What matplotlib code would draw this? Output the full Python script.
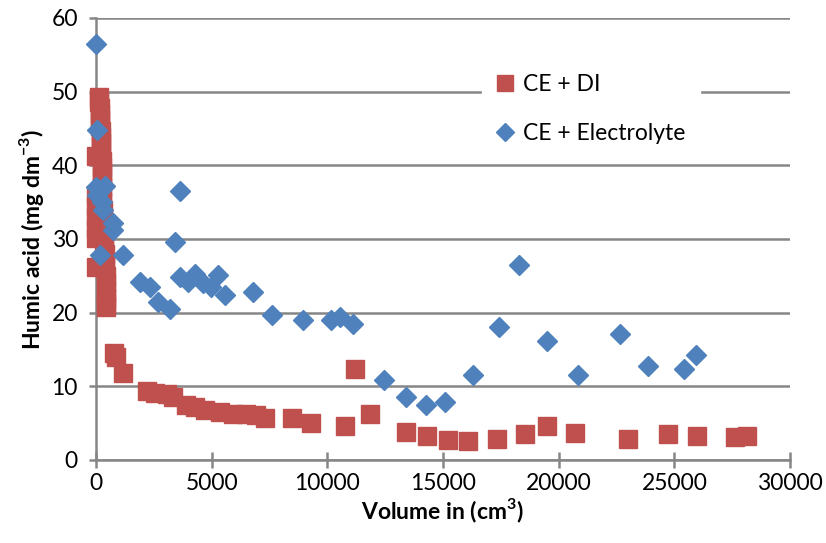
import matplotlib
matplotlib.use("Agg")
import matplotlib.pyplot as plt

# CE + DI (red squares)
di_volume = [0, 0, 0, 0, 0, 0, 0,
             140, 150, 160, 170, 180, 190, 200, 205, 215, 225, 235, 240, 250, 255,
             260, 265, 270, 275, 285, 295, 305, 320, 340, 360, 380, 395, 410, 420, 430,
             780, 860, 1180, 2190, 2550, 3080, 3340, 3910, 4270, 4700, 5350, 5930,
             6500, 6900, 7290, 8490, 9310, 10780, 11210, 11860, 13380, 14300, 15220,
             16100, 17350, 18560, 19480, 20700, 23000, 24740, 26000, 27620, 28150]
di_humic = [41.3, 36.0, 34.5, 33.0, 31.5, 30.2, 26.2,
            49.3, 48.6, 47.8, 47.0, 46.2, 45.4, 44.6, 43.8, 43.0, 42.2, 41.4, 40.6, 39.8, 39.0,
            38.0, 37.0, 36.0, 35.0, 34.0, 33.0, 32.0, 31.0, 30.0, 29.0, 28.0, 27.0, 26.0, 25.0, 24.0,
            14.5, 14.0, 11.8, 9.3, 9.1, 8.9, 8.6, 7.5, 7.2, 6.8, 6.45, 6.3,
            6.2, 6.1, 5.65, 5.65, 5.0, 4.66, 12.4, 6.2, 3.85, 3.2, 2.75,
            2.55, 2.8, 3.5, 4.65, 3.6, 2.85, 3.5, 3.25, 3.1, 3.25]
# bottom of the early column
di_volume += [430, 435, 440, 430]
di_humic += [23.0, 22.0, 21.2, 20.8]

# CE + Electrolyte (blue diamonds)
el_volume = [0, 50, 0, 390, 60, 250, 300, 740, 720, 170, 1180, 1900, 2330, 2690,
             3190, 3410, 3625, 3625, 3985, 4270, 4630, 4990, 5280, 5570, 6790, 7600,
             8950, 10170, 10530, 11100, 12470, 13380, 14270, 15100, 16290, 17440,
             18300, 19480, 20820, 22640, 23870, 25420, 25930]
el_humic = [56.5, 44.8, 37.1, 37.2, 36.0, 35.0, 34.0, 32.2, 31.2, 27.8, 27.8, 24.2, 23.5, 21.5,
            20.5, 29.6, 36.5, 24.9, 24.2, 25.3, 24.0, 23.5, 25.1, 22.4, 22.8, 19.7,
            19.0, 19.0, 19.4, 18.5, 10.9, 8.5, 7.5, 7.9, 11.6, 18.1,
            26.5, 16.2, 11.6, 17.1, 12.7, 12.4, 14.2]

x_ticks = [0, 5000, 10000, 15000, 20000, 25000, 30000]
y_ticks = [0, 10, 20, 30, 40, 50, 60]

red = "#C0504D"
blue = "#4F81BD"
grey = "#868686"

plt.rcParams['font.family'] = ['Lato', 'DejaVu Sans']
plt.rcParams['mathtext.fontset'] = 'custom'
plt.rcParams['mathtext.rm'] = 'Lato'
plt.rcParams['mathtext.bf'] = 'Lato:bold'

fig = plt.figure(figsize=(8.26, 5.43), dpi=100)
ax = fig.add_axes([0.1162, 0.1529, 0.8402, 0.814])

ax.plot(di_volume, di_humic, linestyle='none', marker='s', ms=13.5,
        color=red, mec=red, label='CE + DI', clip_on=False, zorder=3)
ax.plot(el_volume, el_humic, linestyle='none', marker='D', ms=9.8,
        color=blue, mec=blue, label='CE + Electrolyte', clip_on=False, zorder=4)

ax.set_xlim(0, 30000)
ax.set_ylim(0, 60)
ax.set_xticks(x_ticks)
ax.set_yticks(y_ticks)
ax.tick_params(axis='both', labelsize=16.5, colors=grey, labelcolor='black', width=1.8)
ax.tick_params(axis='x', direction='inout', length=11, pad=4)
ax.tick_params(axis='y', direction='out', length=5, pad=8)

ax.grid(axis='y', color=grey, linewidth=1.8)
ax.set_axisbelow(True)
for side in ['top', 'right']:
    ax.spines[side].set_visible(False)
for side in ['left', 'bottom']:
    ax.spines[side].set_color(grey)
    ax.spines[side].set_linewidth(1.8)

ax.set_xlabel(r'Volume in (cm$^{\mathbf{3}}$)', fontsize=16.5, fontweight='bold', labelpad=2)
ax.set_ylabel(r'Humic acid (mg dm$^{\mathbf{-3}}$)', fontsize=16.5, fontweight='bold', labelpad=4)

leg = ax.legend(loc='upper left', bbox_to_anchor=(0.54, 0.93), fontsize=16.5,
                frameon=True, fancybox=False, handlelength=0.8, handletextpad=0.4,
                labelspacing=1.2, markerscale=0.9, borderpad=0.6)
leg.get_frame().set_facecolor('white')
leg.get_frame().set_edgecolor('white')
leg.get_frame().set_alpha(1.0)

fig.savefig('out.png', dpi=100)
